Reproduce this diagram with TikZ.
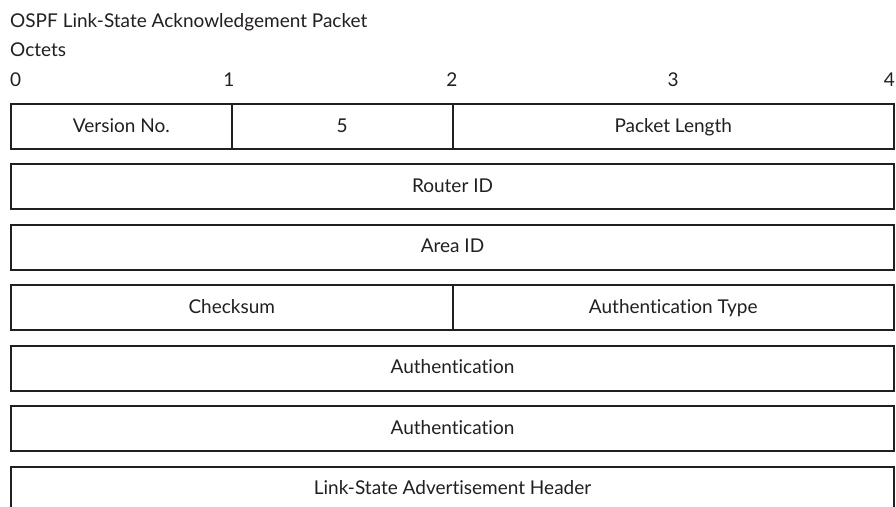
\documentclass[tikz,border=0pt]{standalone}
\usepackage{fontspec}
\setmainfont{Lato}[Ligatures=NoCommon]
\definecolor{ink}{HTML}{231F20}
\begin{document}
\begin{tikzpicture}[x=1pt,y=-1pt,
  field/.style={draw=ink,line width=2pt,minimum height=45pt,inner sep=0pt,anchor=north west,font=\fontsize{19}{21}\selectfont,text=ink,text height=13pt,text depth=1.5pt},
  lbl/.style={font=\fontsize{19}{21}\selectfont,text=ink,inner sep=0pt}]
\clip (0,0) rectangle (896,506);
\useasboundingbox (0,0) rectangle (896,506);
\fill[white] (0,0) rectangle (896,506);
\node[lbl,anchor=west] (title) at (10,22) {OSPF Link-State Acknowledgement Packet};
\node[lbl,anchor=west] (octets) at (10,50) {Octets};
\node[lbl,anchor=west] (o0) at (10,80) {0};
\node[lbl] (o1) at (229,80) {1};
\node[lbl] (o2) at (452,80) {2};
\node[lbl] (o3) at (673,80) {3};
\node[lbl,anchor=east] (o4) at (895,80) {4};
% row 1
\node[field,minimum width=220.75pt] (ver) at (10,103) {Version No.};
\node[field,minimum width=220.75pt] (type) at (230.75,103) {5};
\node[field,minimum width=441.5pt] (plen) at (451.5,103) {Packet Length};
% rows
\node[field,minimum width=883pt] (rid) at (10,163) {Router ID};
\node[field,minimum width=883pt] (aid) at (10,223.5) {Area ID};
\node[field,minimum width=441.5pt] (csum) at (10,284) {Checksum};
\node[field,minimum width=441.5pt] (atype) at (451.5,284) {Authentication Type};
\node[field,minimum width=883pt] (auth1) at (10,344.5) {Authentication};
\node[field,minimum width=883pt] (auth2) at (10,405) {Authentication};
\node[field,minimum width=883pt] (lsa) at (10,465.5) {Link-State Advertisement Header};
\end{tikzpicture}
\end{document}
